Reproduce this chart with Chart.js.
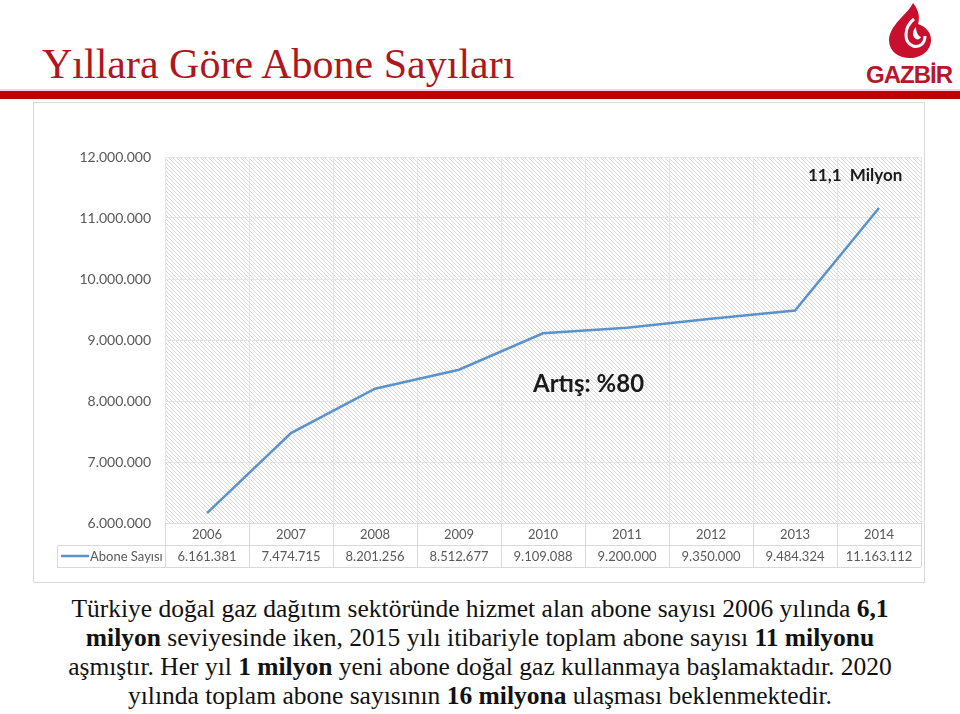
<!DOCTYPE html>
<html lang="tr">
<head>
<meta charset="utf-8">
<script src="https://cdn.jsdelivr.net/npm/chart.js@4/dist/chart.umd.min.js"></script>
<style>
  html, body { margin: 0; padding: 0; background: #fff; }
  body { width: 960px; height: 714px; position: relative; overflow: hidden; }
  #title { position: absolute; left: 42px; top: 43px; font: 42px/42px "Liberation Serif", "Times New Roman", serif; color: #b0161d; white-space: nowrap; }
  #pinkline { position: absolute; left: 0; top: 89px; width: 960px; height: 2px; background: #f6d3d3; }
  #redbar { position: absolute; left: 0; top: 91px; width: 960px; height: 8px; background: #c00000; }
  #logo { position: absolute; left: 862px; top: 0; width: 98px; height: 90px; }
  #logo svg { position: absolute; left: 0; top: 0; }
  #logo .name { position: absolute; left: 4px; top: 63px; font: bold 24px/24px "Liberation Sans", Arial, sans-serif; color: #b5172b; letter-spacing: -1px; white-space: nowrap; }
  #box { position: absolute; left: 33px; top: 102px; width: 892px; height: 481px; border: 1px solid #d9d9d9; box-sizing: border-box; }
  #box canvas { position: absolute; left: 0; top: 0; }
  .note { position: absolute; font-family: Lato, "Open Sans", sans-serif; font-weight: bold; color: #1a1a1a; white-space: nowrap; }
  #n1 { left: 808px; top: 166px; font-size: 17px; line-height: 17px; }
  #n2 { left: 533px; top: 371px; font-size: 24px; line-height: 24px; }
  #para { position: absolute; left: 0; top: 594px; width: 960px; text-align: center; font: 25.5px/29px "Liberation Serif", "Times New Roman", serif; color: #111; }
</style>
</head>
<body>
<div id="title">Yıllara Göre Abone Sayıları</div>
<div id="pinkline"></div>
<div id="redbar"></div>
<div id="logo">
  <svg width="98" height="62" viewBox="0 0 98 62">
    <path d="M51 3 C46 14 28 24 27 40 C27 51 36 58 48 58 C60 58 69 50 69 40 C69 31 62 26 56 24 C58 18 57 10 51 3 Z" fill="#c8102e"/>
    <path d="M52 19 C42 27 41 42 51 46 C58 48 63 43 63 36" fill="none" stroke="#fff" stroke-width="3"/>
    <path d="M54 27 C50 31 50 37 54 39 C56 40 58 39 59 37 C56 36 54 32 54 27 Z" fill="#fff"/>
  </svg>
  <div class="name">GAZBİR</div>
</div>
<div id="box"><canvas id="chart" width="890" height="479"></canvas></div>
<div class="note" id="n1">11,1&nbsp;&nbsp;Milyon</div>
<div class="note" id="n2">Artış: %80</div>
<div id="para">
  Türkiye doğal gaz dağıtım sektöründe hizmet alan abone sayısı 2006 yılında <b>6,1</b><br>
  <b>milyon</b> seviyesinde iken, 2015 yılı itibariyle toplam abone sayısı <b>11 milyonu</b><br>
  aşmıştır. Her yıl <b>1 milyon</b> yeni abone doğal gaz kullanmaya başlamaktadır. 2020<br>
  yılında toplam abone sayısının <b>16 milyona</b> ulaşması beklenmektedir.
</div>

<script>
const years = ['2006', '2007', '2008', '2009', '2010', '2011', '2012', '2013', '2014'];
const subscribers = [6161381, 7474715, 8201256, 8512677, 9109088, 9200000, 9350000, 9484324, 11163112];
const seriesName = 'Abone Sayısı';
const yMin = 6000000;
const yMax = 12000000;
const yStep = 1000000;

const fmt = v => String(v).replace(/\B(?=(\d{3})+(?!\d))/g, '.');
const textColor = '#595959';
const lineColor = '#5a92cc';

// diagonal hatch for the plot area
function hatch() {
  const c = document.createElement('canvas');
  c.width = 4; c.height = 4;
  const g = c.getContext('2d');
  g.fillStyle = '#fff';
  g.fillRect(0, 0, 4, 4);
  g.strokeStyle = '#d8d8d8';
  g.lineWidth = 1;
  g.beginPath();
  g.moveTo(-1, -1); g.lineTo(5, 5);
  g.moveTo(-1, 3); g.lineTo(1, 5);
  g.moveTo(3, -1); g.lineTo(5, 1);
  g.stroke();
  return g.createPattern(c, 'repeat');
}

const plotBg = {
  id: 'plotBg',
  beforeDraw(chart) {
    const { ctx, chartArea: a } = chart;
    ctx.save();
    ctx.fillStyle = hatch();
    ctx.fillRect(a.left, a.top, a.right - a.left, a.bottom - a.top);
    ctx.restore();
  }
};

// data table under the x axis
const dataTable = {
  id: 'dataTable',
  afterDraw(chart) {
    const { ctx, chartArea: a, scales: { x } } = chart;
    const w = x.getPixelForValue(1) - x.getPixelForValue(0);
    const r1 = a.bottom, r2 = r1 + 22, r3 = r2 + 22;
    const legendLeft = 23;
    ctx.save();
    ctx.strokeStyle = '#d9d9d9';
    ctx.lineWidth = 1;
    ctx.beginPath();
    ctx.moveTo(a.left, r1 + 0.5); ctx.lineTo(a.right, r1 + 0.5);
    ctx.moveTo(legendLeft, r2 + 0.5); ctx.lineTo(a.right, r2 + 0.5);
    ctx.moveTo(legendLeft, r3 + 0.5); ctx.lineTo(a.right, r3 + 0.5);
    ctx.moveTo(legendLeft + 0.5, r2); ctx.lineTo(legendLeft + 0.5, r3);
    for (let i = 0; i <= years.length; i++) {
      const px = Math.round(x.getPixelForValue(i) - w / 2) + 0.5;
      ctx.moveTo(px, r1); ctx.lineTo(px, r3);
    }
    ctx.stroke();

    const mid = r2 + 11;
    ctx.strokeStyle = lineColor;
    ctx.lineWidth = 2.5;
    ctx.beginPath();
    ctx.moveTo(27, mid); ctx.lineTo(55, mid);
    ctx.stroke();

    ctx.fillStyle = textColor;
    ctx.font = '13px Lato, "Open Sans", sans-serif';
    ctx.textBaseline = 'middle';
    ctx.textAlign = 'left';
    ctx.fillText(seriesName, 56, mid + 1);
    ctx.textAlign = 'center';
    subscribers.forEach((v, i) => ctx.fillText(fmt(v), x.getPixelForValue(i), mid + 1));
    ctx.restore();
  }
};

new Chart(document.getElementById('chart'), {
  type: 'line',
  data: {
    labels: years,
    datasets: [{
      label: seriesName,
      data: subscribers,
      borderColor: lineColor,
      borderWidth: 2.5,
      pointRadius: 0,
      tension: 0,
      fill: false
    }]
  },
  options: {
    responsive: false,
    animation: false,
    devicePixelRatio: 1,
    layout: { padding: { left: 0, right: 3, top: 54, bottom: 37 } },
    plugins: { legend: { display: false }, tooltip: { enabled: false } },
    scales: {
      x: {
        offset: true,
        grid: { offset: true, color: '#e6e6e6', drawTicks: false },
        border: { display: false },
        ticks: { color: textColor, padding: 4, font: { family: 'Lato', size: 13 } },
        afterFit: s => { s.height = 22; }
      },
      y: {
        min: yMin,
        max: yMax,
        grid: { color: '#e6e6e6', drawTicks: false },
        border: { display: false },
        ticks: {
          stepSize: yStep,
          color: textColor,
          padding: 14,
          font: { family: 'Lato', size: 14 },
          callback: v => fmt(v)
        },
        afterFit: s => { s.width = 131; }
      }
    }
  },
  plugins: [plotBg, dataTable]
});
</script>
</body>
</html>
